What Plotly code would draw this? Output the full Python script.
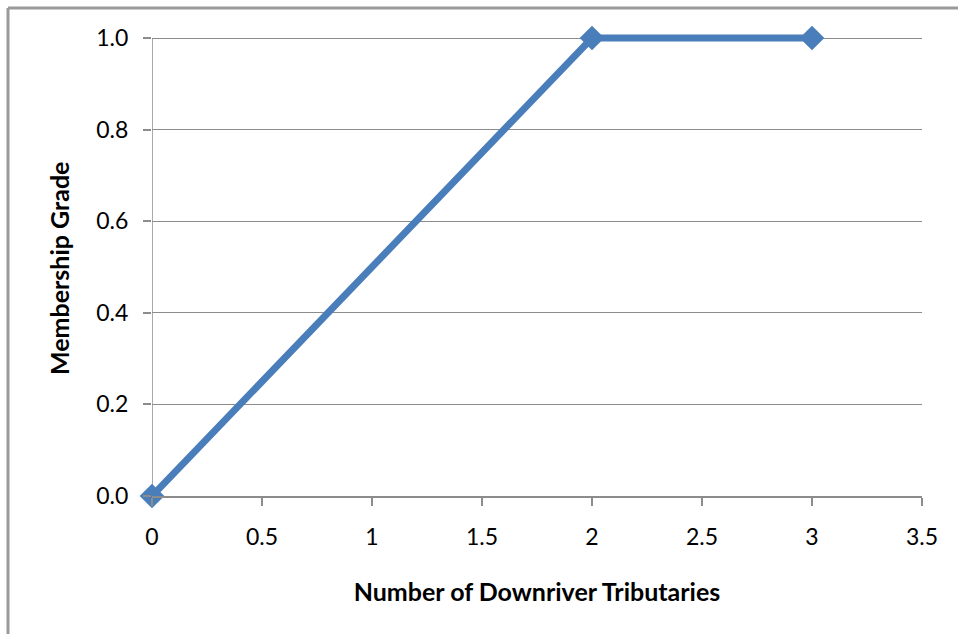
import plotly.graph_objects as go

# Membership function: number of downriver tributaries -> grade
tributaries = [0, 2, 3]
membership = [0.0, 1.0, 1.0]

x_ticks = [0, 0.5, 1, 1.5, 2, 2.5, 3, 3.5]
x_tick_text = ["0", "0.5", "1", "1.5", "2", "2.5", "3", "3.5"]
y_ticks = [0.0, 0.2, 0.4, 0.6, 0.8, 1.0]
y_tick_text = ["0.0", "0.2", "0.4", "0.6", "0.8", "1.0"]

W, H = 958, 634
ML, MR, MT, MB = 152, 36, 24, 138
GRADE_TOP_PX = 38                      # pixel row of grade 1.0
pw, ph = W - ML - MR, H - MT - MB
unit_px = (H - MB) - GRADE_TOP_PX      # pixels per 1.0 of grade
y_max = ph / unit_px                   # small headroom so the top line is not clipped

def px_x(p):
    return (p - ML) / pw

def px_y(p):
    return (H - MB - p) / ph

FONT = "Lato, Carlito, Calibri, 'Open Sans', sans-serif"
GRID = "#8c8c8c"
BLUE = "#4a7ebb"

fig = go.Figure()
fig.add_trace(go.Scatter(
    x=tributaries, y=membership, mode="lines+markers",
    line=dict(color=BLUE, width=7),
    marker=dict(symbol="diamond", size=19, color=BLUE),
    cliponaxis=False, showlegend=False,
))

fig.update_layout(
    width=W, height=H,
    margin=dict(l=ML, r=MR, t=MT, b=MB),
    paper_bgcolor="white", plot_bgcolor="white",
    font=dict(family=FONT, size=23, color="black"),
    xaxis=dict(
        range=[0, 3.5], tickvals=x_ticks, ticktext=x_tick_text,
        showgrid=False, zeroline=False,
        showline=True, linecolor=GRID, linewidth=1.5,
        ticks="outside", ticklen=8, tickwidth=1.5, tickcolor=GRID,
        ticklabelstandoff=12,
        title=dict(text="<b>Number of Downriver Tributaries</b>",
                   font=dict(size=25), standoff=34),
    ),
    yaxis=dict(
        range=[0, y_max], tickvals=y_ticks, ticktext=y_tick_text,
        showgrid=True, gridcolor=GRID, gridwidth=1.3, zeroline=False,
        showline=False,
        ticks="outside", ticklen=8, tickwidth=1.5, tickcolor=GRID,
        ticklabelstandoff=10,
    ),
    annotations=[
        # vertical axis title, centred on the 0..1 grade span
        dict(text="<b>Membership Grade</b>", textangle=-90,
             xref="paper", yref="paper", x=px_x(59), y=px_y(269),
             xanchor="center", yanchor="middle", showarrow=False,
             font=dict(size=25)),
    ],
    shapes=[
        # vertical axis line spanning grades 0..1
        dict(type="line", xref="x", yref="y", x0=0, x1=0, y0=0, y1=1,
             line=dict(color=GRID, width=1.5), layer="below"),
        # outer chart frame (left and top edges visible)
        dict(type="line", xref="paper", yref="paper",
             x0=px_x(8), x1=px_x(8), y0=px_y(8), y1=px_y(700),
             line=dict(color="#9a9a9a", width=3)),
        dict(type="line", xref="paper", yref="paper",
             x0=px_x(8), x1=px_x(1000), y0=px_y(8), y1=px_y(8),
             line=dict(color="#9a9a9a", width=3)),
    ],
)

fig.write_html("out.html")
